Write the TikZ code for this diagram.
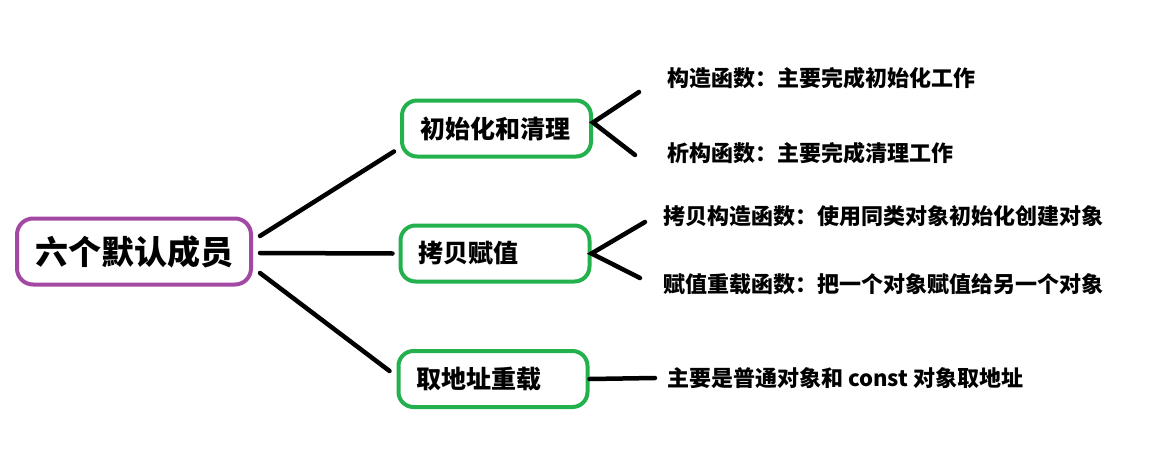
\documentclass[tikz,border=0pt]{standalone}
\usepackage{fontspec}
\newfontfamily\cjk{Noto Sans CJK SC}
\definecolor{rootpurple}{HTML}{A349A4}
\definecolor{boxgreen}{HTML}{22B14C}
\begin{document}
\begin{tikzpicture}[x=1pt,y=-1pt,
  rootbox/.style={draw=rootpurple,line width=4pt,rounded corners=16pt,
    minimum width=234pt,minimum height=66pt,inner sep=0pt,
    font=\cjk\bfseries\fontsize{33}{35}\selectfont},
  midbox/.style={draw=boxgreen,line width=4pt,rounded corners=15pt,
    minimum height=56pt,text width=153pt,inner xsep=18pt,inner ysep=0pt,align=left,
    font=\cjk\bfseries\fontsize{25}{28}\selectfont},
  leaf/.style={anchor=west,inner sep=0pt,font=\cjk\bfseries\fontsize{22}{24}\selectfont},
  conn/.style={line width=4.5pt,line cap=round}]
\useasboundingbox (0,0) rectangle (1157,471);
\node[rootbox] (root) at (134,251.5) {六个默认成员};
\node[midbox] (b1) at (496.5,128.5) {初始化和清理};
\node[midbox] (b2) at (495,253.5) {拷贝赋值};
\node[midbox] (b3) at (493,379) {取地址重载};
\node[leaf] (l1) at (667,78) {构造函数：主要完成初始化工作};
\node[leaf] (l2) at (667,153) {析构函数：主要完成清理工作};
\node[leaf] (l3) at (663,216) {拷贝构造函数：使用同类对象初始化创建对象};
\node[leaf] (l4) at (663,284) {赋值重载函数：把一个对象赋值给另一个对象};
\node[leaf] (l5) at (667,378) {主要是普通对象和 const 对象取地址};
% root to boxes
\draw[conn] ([shift={(7,-15.5)}]root.east) -- ([shift={(-6,23)}]b1.west);
\draw[conn] ([shift={(7,1.5)}]root.east) -- ([shift={(-6,0)}]b2.west);
\draw[conn] ([shift={(7,21.5)}]root.east) -- ([shift={(-7,-8)}]b3.west);
% box1 fan
\coordinate (v1) at ([shift={(0,-6)}]b1.east);
\draw[conn] ([shift={(-28,14)}]l1.west) -- (v1) -- ([shift={(-32,2)}]l2.west);
% box2 fan
\coordinate (v2) at ([shift={(0,0)}]b2.east);
\draw[conn] ([shift={(-18,6)}]l3.west) -- (v2) -- ([shift={(-23,-6)}]l4.west);
% box3 line
\draw[conn] (b3.east) -- ([shift={(-12,0)}]l5.west);
\end{tikzpicture}
\end{document}
